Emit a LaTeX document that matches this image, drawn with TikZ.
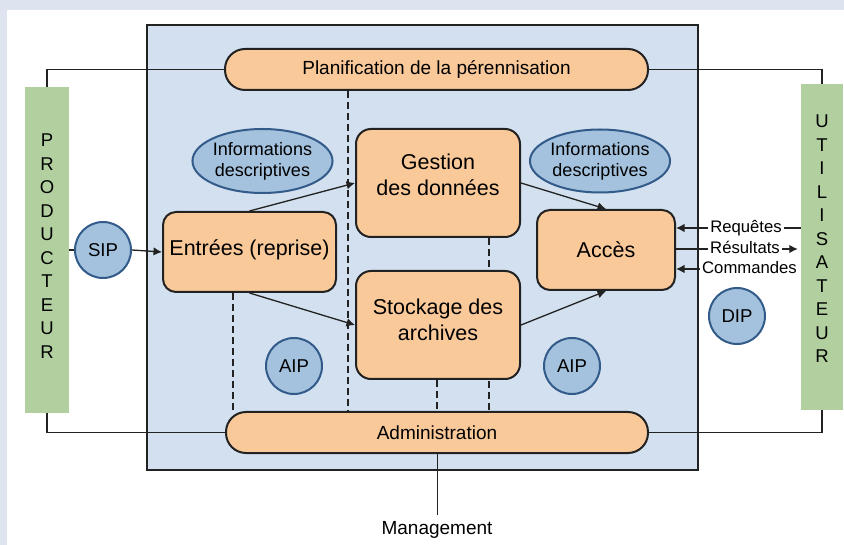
\documentclass[tikz,border=0pt]{standalone}
\usepackage{fontspec}
\setmainfont{Liberation Sans}
\usetikzlibrary{arrows.meta,calc,shapes.geometric}
\definecolor{bgout}{HTML}{DDE4EF}
\definecolor{mainc}{HTML}{D3E0EF}
\definecolor{orangec}{HTML}{F9C99A}
\definecolor{greenc}{HTML}{B2CF9F}
\definecolor{bubf}{HTML}{A4C2DE}
\definecolor{bubd}{HTML}{325B8A}
\definecolor{linec}{HTML}{222222}
\pgfdeclarelayer{bglayer}
\pgfdeclarelayer{midlayer}
\pgfsetlayers{bglayer,midlayer,main}
\begin{document}
\begin{tikzpicture}[x=1pt,y=-1pt,
  obox/.style={draw=linec, line width=2pt, fill=orangec, rounded corners=14pt, inner sep=0pt},
  boxtxt/.style={align=center, inner sep=0pt, font=\fontsize{21.5}{26}\selectfont, text=black},
  pill/.style={draw=linec, line width=2pt, fill=orangec, rounded corners=20pt, minimum height=41pt, inner sep=0pt, font=\fontsize{19}{22}\selectfont},
  bub/.style={draw=bubd, line width=2pt, fill=bubf, circle, minimum size=56pt, inner sep=0pt, font=\fontsize{18.6}{22}\selectfont},
  ell/.style={draw=bubd, line width=2pt, fill=bubf, ellipse, minimum width=127pt, minimum height=64pt, inner sep=0pt, align=center, font=\fontsize{18}{21}\selectfont},
  greenbox/.style={fill=greenc, inner sep=0pt, minimum width=44pt, minimum height=326pt},
  vtext/.style={align=center, font=\fontsize{18.5}{23.5}\selectfont, inner sep=0pt},
  conn/.style={draw=linec, line width=1.3pt},
  arr/.style={conn, -{Latex[length=8.5pt,width=8.5pt]}},
  dashln/.style={draw=linec, line width=1.5pt, dash pattern=on 7pt off 4pt},
  lbl/.style={fill=white, inner sep=2pt, font=\fontsize{16.7}{19}\selectfont, text height=12pt, text depth=3.5pt}
]
\useasboundingbox (0,0) rectangle (844,545);
\begin{pgfonlayer}{bglayer}
\fill[bgout] (0,0) rectangle (844,545);
\fill[white] (7,10) rectangle (844,545);
\draw[draw=linec, line width=2pt, fill=mainc] (147,25) rectangle (698,470);
\end{pgfonlayer}

% producteur / utilisateur
\node[greenbox] (prod) at (47,250) {};
\node[vtext] (prodtxt) at (47,246) {P\\R\\O\\D\\U\\C\\T\\E\\U\\R};
\node[greenbox, minimum width=42pt] (util) at (822,247) {};
\node[vtext] (utiltxt) at (822,239) {U\\T\\I\\L\\I\\S\\A\\T\\E\\U\\R};

% pills
\node[pill, minimum width=423pt] (plan) at (436.5,69.5) {Planification de la pérennisation};
\node[pill, minimum width=422pt] (admin) at (437,432.5) {Administration};

% boxes
\node[obox, minimum width=173pt, minimum height=80pt, rounded corners=13pt] (entrees) at (249.5,252) {};
\node[obox, minimum width=164pt, minimum height=108pt, rounded corners=15pt] (gestion) at (438,183) {};
\node[obox, minimum width=164pt, minimum height=108pt, rounded corners=15pt] (stockage) at (438,325) {};
\node[obox, minimum width=138pt, minimum height=80pt, rounded corners=13pt] (acces) at (606,250) {};

\coordinate (d1) at (348,0);
\coordinate (d2) at (233,0);
\coordinate (d3) at (489,0);
\coordinate (d4) at (437,0);

\begin{pgfonlayer}{midlayer}
\draw[conn] (prod.north) |- (plan.west);
\draw[conn] (util.north) |- (plan.east);
\draw[conn] (prod.south) |- (admin.west);
\draw[conn] (util.south) |- (admin.east);
\draw[dashln] (plan.south -| d1) -- (admin.north -| d1);
\draw[dashln] (entrees.south -| d2) -- (admin.north -| d2);
\draw[dashln] (gestion.south -| d3) -- (admin.north -| d3);
\draw[dashln] (stockage.south -| d4) -- (admin.north -| d4);
\end{pgfonlayer}

% box texts
\node[boxtxt] (entreestxt) at (249.5,250) {Entrées (reprise)};
\node[boxtxt] (gestiontxt) at (438,175) {Gestion\\des données};
\node[boxtxt] (stockagetxt) at (438,320) {Stockage des\\archives};
\node[boxtxt] (accestxt) at (606,250) {Accès};

% ellipses and bubbles
\node[ell] (info1) at (262.5,161) {Informations\\descriptives};
\node[ell, minimum width=126pt, minimum height=63pt] (info2) at (600,161) {Informations\\descriptives};
\node[bub] (sip) at (103,250) {SIP};
\node[bub] (aip1) at (294,366) {AIP};
\node[bub] (aip2) at (572,366) {AIP};
\node[bub] (dip) at (737,316) {DIP};

% arrows
\draw[conn] (prod.east |- sip) -- (sip.west);
\draw[arr] (sip.east) -- (entrees.west);
\draw[arr] (entrees.north) -- (gestion.west);
\draw[arr] (entrees.south) -- (stockage.west);
\draw[arr] (gestion.east) -- (acces.north);
\draw[arr] (stockage.east) -- (acces.south);

% right labels
\node[lbl] (req) at (746,228) {Requêtes};
\node[lbl] (res) at (745,249) {Résultats};
\node[lbl] (com) at (749.5,269) {Commandes};
\draw[arr] (req.west) -- (acces.east |- req.west);
\draw[conn] (req.east) -- (util.west |- req.east);
\draw[conn] (acces.east |- res.west) -- (res.west);
\draw[arr, shorten >=3pt] (res.east) -- (util.west |- res.east);
\draw[arr] (com.west) -- (acces.east |- com.west);

% management
\node[inner sep=0pt, anchor=north, font=\fontsize{19}{22}\selectfont] (mgmt) at (437,521) {Management};
\draw[conn, line width=1pt, shorten >=6pt] (admin.south) -- (mgmt.north);
\end{tikzpicture}
\end{document}
